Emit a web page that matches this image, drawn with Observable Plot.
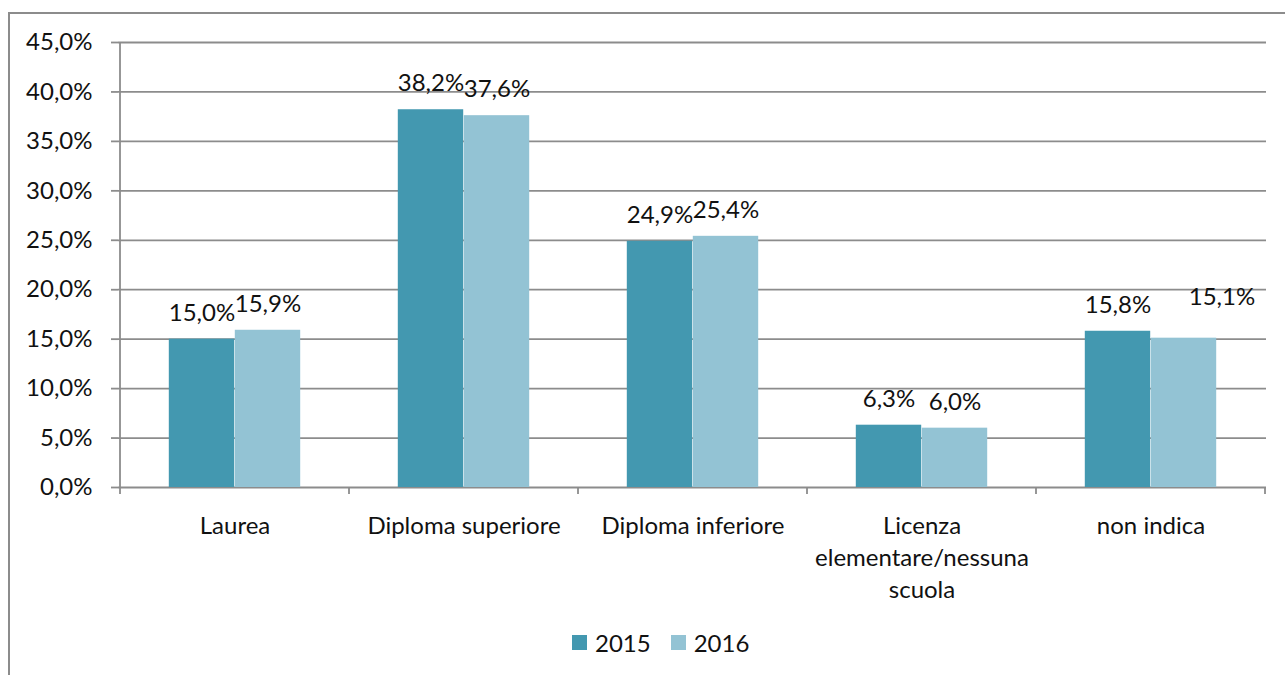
<!DOCTYPE html>
<html>
<head>
<meta charset="utf-8">
<script src="https://cdn.jsdelivr.net/npm/d3@7"></script>
<script src="https://cdn.jsdelivr.net/npm/@observablehq/plot@0.6"></script>
<style>
  html, body { margin: 0; padding: 0; background: #fff; }
  #wrap { position: relative; width: 1285px; height: 675px; overflow: hidden; font-family: Lato, "Open Sans", sans-serif; }
  #frame { position: absolute; left: 8px; top: 12px; width: 1400px; height: 800px; border: 2px solid #8c8c8c; box-sizing: border-box; }
  #chart { position: absolute; left: 0; top: 0; }
  #legend { position: absolute; left: 572px; top: 630px; height: 25px; display: flex; align-items: center; font-size: 24px; color: #111; }
  #legend .sw { width: 15px; height: 15px; margin-right: 8px; }
  #legend .item { display: flex; align-items: center; margin-right: 20px; }
</style>
</head>
<body>
<div id="wrap">
  <div id="frame"></div>
  <div id="chart"></div>
  <div id="legend"></div>
</div>
<script>
const categories = ["Laurea", "Diploma superiore", "Diploma inferiore", "Licenza elementare/nessuna scuola", "non indica"];
const categoryLabels = ["Laurea", "Diploma superiore", "Diploma inferiore", "Licenza\nelementare/nessuna\nscuola", "non indica"];
const years = ["2015", "2016"];
const values2015 = [15.0, 38.2, 24.9, 6.3, 15.8];
const values2016 = [15.9, 37.6, 25.4, 6.0, 15.1];
const yTicks = [0, 5, 10, 15, 20, 25, 30, 35, 40, 45];
const colors = ["#4398b0", "#93c3d4"];

const rows = categories.flatMap((c, i) => [
  {cat: c, year: years[0], value: values2015[i]},
  {cat: c, year: years[1], value: values2016[i]}
]);

const pct = v => v.toFixed(1).replace(".", ",") + "%";
const gray = "#8c8c8c";

function axisDecor(index, scales, values, dimensions) {
  const x = scales.x, y = scales.y;
  const bw = x.bandwidth ? x.bandwidth() : (dimensions.width - dimensions.marginLeft - dimensions.marginRight) / categories.length;
  const g = d3.create("svg:g").attr("stroke", gray).attr("stroke-width", 1.8).attr("fill", "none");
  const y0 = y(0), yTop = y(45);
  const x0 = x(categories[0]);
  g.append("line").attr("x1", x0).attr("x2", x0).attr("y1", yTop).attr("y2", y0 + 7);
  const xs = categories.map(c => x(c)).concat([x(categories[categories.length - 1]) + bw]);
  xs.slice(1).forEach(px => {
    g.append("line").attr("x1", px).attr("x2", px).attr("y1", y0).attr("y2", y0 + 7);
  });
  return g.node();
}

const bwApprox = (1285 - 118 - 19) / categories.length;
const barW = 66;
const outer = (bwApprox - 2 * barW) / 2;

const plot = Plot.plot({
  width: 1285,
  height: 675,
  marginLeft: 118,
  marginRight: 19,
  marginTop: 42,
  marginBottom: 188,
  style: {fontFamily: "Lato, 'Open Sans', sans-serif", fontSize: "24px", color: "#111", background: "transparent", overflow: "visible"},
  x: {domain: categories, padding: 0},
  y: {domain: [0, 45]},
  color: {domain: years, range: colors},
  marks: [
    Plot.gridY(yTicks, {stroke: gray, strokeOpacity: 1, strokeWidth: 1.8}),
    Plot.axisY(yTicks, {tickSize: 7, tickPadding: 19, tickFormat: pct, stroke: gray, strokeWidth: 1.8, fill: "#111", label: null}),
    Plot.barY(rows, {filter: d => d.year === years[0], x: "cat", y: "value", fill: "year", insetLeft: outer, insetRight: outer + barW}),
    Plot.barY(rows, {filter: d => d.year === years[1], x: "cat", y: "value", fill: "year", insetLeft: outer + barW, insetRight: outer}),
    Plot.text(rows, {filter: d => d.year === years[0], x: "cat", y: "value", text: d => pct(d.value), dx: -barW / 2, dy: -26, lineAnchor: "middle", fill: "#111"}),
    Plot.text(rows, {filter: d => d.year === years[1] && d.cat !== "non indica", x: "cat", y: "value", text: d => pct(d.value), dx: barW / 2, dy: -26, lineAnchor: "middle", fill: "#111"}),
    Plot.text(rows, {filter: d => d.year === years[1] && d.cat === "non indica", x: "cat", y: "value", text: d => pct(d.value), dx: barW / 2 + 38, dy: -41, lineAnchor: "middle", fill: "#111"}),
    Plot.axisX({tickSize: 0, tickPadding: 24, tickFormat: d => categoryLabels[categories.indexOf(d)], lineHeight: 1.333, fill: "#111", label: null}),
    axisDecor
  ]
});
document.getElementById("chart").appendChild(plot);

const legend = document.getElementById("legend");
years.forEach((yr, i) => {
  const item = document.createElement("div");
  item.className = "item";
  const sw = document.createElement("div");
  sw.className = "sw";
  sw.style.background = colors[i];
  const t = document.createElement("span");
  t.textContent = yr;
  item.appendChild(sw);
  item.appendChild(t);
  legend.appendChild(item);
});
</script>
</body>
</html>
